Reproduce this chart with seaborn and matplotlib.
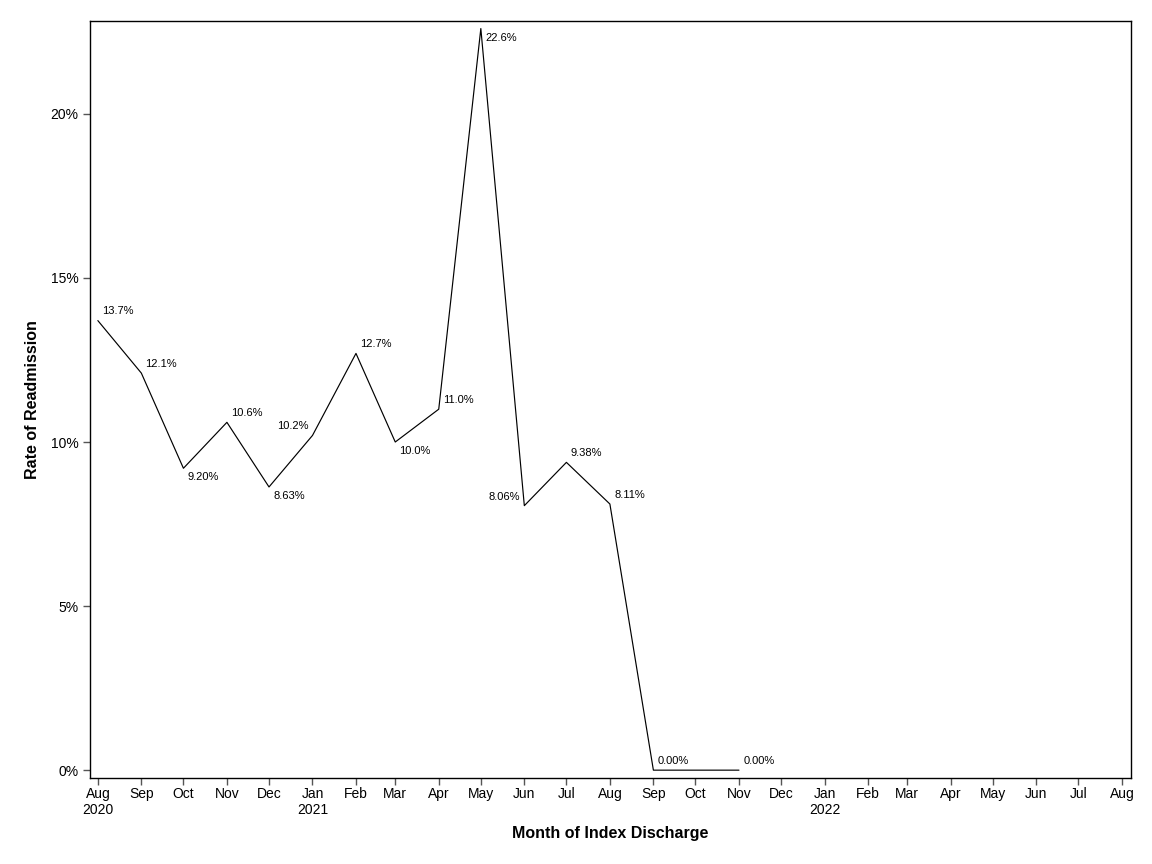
import matplotlib
matplotlib.use("Agg")
import matplotlib.pyplot as plt
import matplotlib.ticker as mticker
import seaborn as sns
import pandas as pd

# ---- data ----
months = ["2020-08", "2020-09", "2020-10", "2020-11", "2020-12", "2021-01",
          "2021-02", "2021-03", "2021-04", "2021-05", "2021-06", "2021-07",
          "2021-08", "2021-09", "2021-10", "2021-11"]
rates = [13.7, 12.1, 9.20, 10.6, 8.63, 10.2, 12.7, 10.0, 11.0, 22.6,
         8.06, 9.38, 8.11, 0.00, 0.00, 0.00]
point_labels = ["13.7%", "12.1%", "9.20%", "10.6%", "8.63%", "10.2%", "12.7%",
                "10.0%", "11.0%", "22.6%", "8.06%", "9.38%", "8.11%", "0.00%",
                "", "0.00%"]
tick_months = pd.date_range("2020-08-01", "2022-08-01", freq="MS")
tick_labels = ["Aug\n2020", "Sep", "Oct", "Nov", "Dec", "Jan\n2021", "Feb", "Mar",
               "Apr", "May", "Jun", "Jul", "Aug", "Sep", "Oct", "Nov", "Dec",
               "Jan\n2022", "Feb", "Mar", "Apr", "May", "Jun", "Jul", "Aug"]
y_ticks = [0, 5, 10, 15, 20]

# label placement (style)
label_pos = ["ur", "ur", "lr", "ur", "lr", "ul", "ur", "lr", "ur", "lr",
             "ul", "ur", "ur", "ur", "ur", "ur"]

df = pd.DataFrame({"month": pd.to_datetime(months), "rate": rates})

sns.set_theme(style="white")
plt.rcParams["font.family"] = ["Liberation Sans", "DejaVu Sans"]
plt.rcParams["text.color"] = "black"
plt.rcParams["axes.labelcolor"] = "black"
plt.rcParams["xtick.color"] = "black"
plt.rcParams["ytick.color"] = "black"

fig = plt.figure(figsize=(11.52, 8.64), dpi=100)
ax = fig.add_axes([0.078, 0.0995, 0.9037, 0.8762])

sns.lineplot(data=df, x="month", y="rate", ax=ax, color="black", linewidth=0.85)

offs = {"ur": (3, 3, "left", "bottom"), "lr": (3, -3, "left", "top"),
        "ul": (-3, 3, "right", "bottom")}
for d, v, lab, p in zip(df["month"], df["rate"], point_labels, label_pos):
    if not lab:
        continue
    dx, dy, ha, va = offs[p]
    ax.annotate(lab, (d, v), xytext=(dx, dy), textcoords="offset points",
                ha=ha, va=va, fontsize=8, color="black")

ax.set_xlim(pd.Timestamp("2020-08-01") - pd.Timedelta(days=5.7),
            pd.Timedelta(days=6.4) + pd.Timestamp("2022-08-01"))
ax.set_ylim(-0.24, 22.83)
ax.set_xticks(tick_months)
ax.set_xticklabels(tick_labels, fontsize=10)
ax.set_yticks(y_ticks)
ax.yaxis.set_major_formatter(mticker.FuncFormatter(lambda v, p: f"{v:.0f}%"))
ax.tick_params(axis="y", labelsize=10, pad=3)
ax.tick_params(axis="x", pad=1.5)
ax.tick_params(axis="both", direction="out", length=5, width=1, color="#555555",
               labelcolor="black", bottom=True, left=True)

for s in ax.spines.values():
    s.set_color("black")
    s.set_linewidth(1.0)

ax.set_xlabel("Month of Index Discharge", fontsize=11.5, fontweight="bold", labelpad=6)
ax.set_ylabel("Rate of Readmission", fontsize=11.5, fontweight="bold", labelpad=8)
ax.grid(False)

fig.savefig("out.png", dpi=100)
